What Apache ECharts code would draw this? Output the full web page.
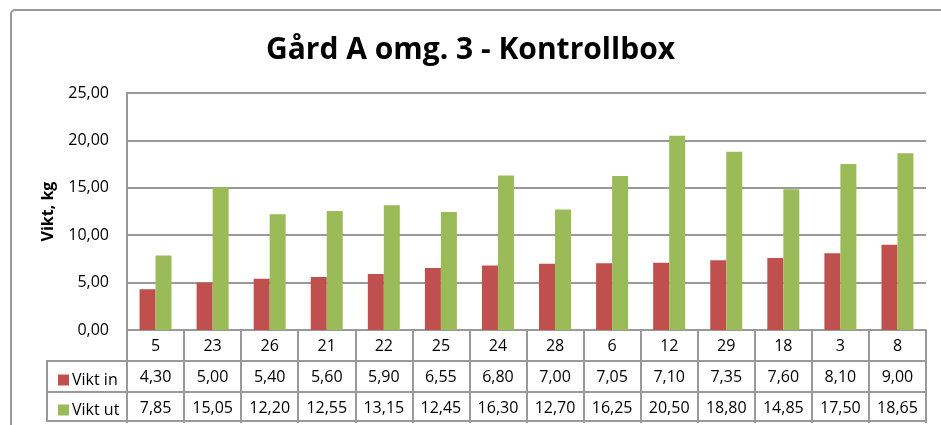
<!DOCTYPE html>
<html>
<head>
<meta charset="utf-8">
<script src="https://cdn.jsdelivr.net/npm/echarts@6/dist/echarts.min.js"></script>
<style>
	html, body { margin: 0; padding: 0; background: #fff; }
	#chart { width: 941px; height: 425px; }
</style>
</head>
<body>
<div id="chart"></div>
<script>
	// data
	var categories = ['5', '23', '26', '21', '22', '25', '24', '28', '6', '12', '29', '18', '3', '8'];
	var viktIn = [4.30, 5.00, 5.40, 5.60, 5.90, 6.55, 6.80, 7.00, 7.05, 7.10, 7.35, 7.60, 8.10, 9.00];
	var viktUt = [7.85, 15.05, 12.20, 12.55, 13.15, 12.45, 16.30, 12.70, 16.25, 20.50, 18.80, 14.85, 17.50, 18.65];
	var yTicks = [0, 5, 10, 15, 20, 25];

	var FONT = '"Open Sans", "Liberation Sans", sans-serif';
	var LINE = '#999999';
	var RED = '#C0504D';
	var GREEN = '#9BBB59';

	function fmt(v) {
		return Number(v).toFixed(2).replace('.', ',');
	}

	// one table row = one category axis pushed down with offset
	function tableAxis(rowData, offset, showLabels) {
		return {
			type: 'category',
			data: rowData,
			position: 'bottom',
			offset: offset,
			axisLine: { show: true, lineStyle: { color: LINE, width: 2 } },
			axisTick: {
				show: showLabels,
				alignWithLabel: false,
				interval: 0,
				length: 31,
				lineStyle: { color: LINE, width: 2 }
			},
			axisLabel: {
				show: showLabels,
				interval: 0,
				margin: 16,
				verticalAlign: 'middle',
				color: '#000',
				fontFamily: FONT,
				fontSize: 16
			}
		};
	}

	var chart = echarts.init(document.getElementById('chart'));

	chart.setOption({
		animation: false,
		title: {
			text: 'Gård A omg. 3 - Kontrollbox',
			left: 'center',
			top: 30,
			textStyle: {
				fontFamily: FONT,
				fontWeight: 'bold',
				fontSize: 30,
				color: '#000'
			}
		},
		legend: [{
			data: ['Vikt in'],
			left: 53,
			top: 367,
			icon: 'rect',
			itemWidth: 11,
			itemHeight: 11,
			itemGap: 0,
			textStyle: { fontFamily: FONT, fontSize: 16, color: '#000', padding: [0, 0, 0, -2] }
		}, {
			data: ['Vikt ut'],
			left: 53,
			top: 397,
			icon: 'rect',
			itemWidth: 11,
			itemHeight: 11,
			itemGap: 0,
			textStyle: { fontFamily: FONT, fontSize: 16, color: '#000', padding: [0, 0, 0, -2] }
		}],
		grid: {
			left: 127,
			right: 15,
			top: 93,
			bottom: 95,
			containLabel: false
		},
		xAxis: [
			tableAxis(categories, 0, true),
			tableAxis(viktIn.map(fmt), 31, true),
			tableAxis(viktUt.map(fmt), 62, true),
			tableAxis(categories, 91, false)
		],
		yAxis: {
			type: 'value',
			min: yTicks[0],
			max: yTicks[yTicks.length - 1],
			interval: 5,
			name: 'Vikt, kg',
			nameLocation: 'middle',
			nameGap: 71,
			nameTextStyle: {
				fontFamily: FONT,
				fontWeight: 'bold',
				fontSize: 16,
				color: '#000'
			},
			axisLine: { show: true, lineStyle: { color: LINE, width: 2 } },
			axisTick: { show: false },
			axisLabel: {
				margin: 18,
				color: '#000',
				fontFamily: FONT,
				fontSize: 16,
				formatter: fmt
			},
			splitLine: { lineStyle: { color: LINE, width: 2 } }
		},
		series: [{
			name: 'Vikt in',
			type: 'bar',
			xAxisIndex: 0,
			data: viktIn,
			barWidth: 16,
			barGap: '0%',
			itemStyle: { color: RED }
		}, {
			name: 'Vikt ut',
			type: 'bar',
			xAxisIndex: 0,
			data: viktUt,
			barWidth: 16,
			barGap: '0%',
			itemStyle: { color: GREEN }
		}],
		graphic: [{
			// chart area frame
			type: 'rect',
			shape: { x: 11, y: 10, width: 1000, height: 500, r: 4 },
			style: { fill: null, stroke: LINE, lineWidth: 2 },
			silent: true
		}, {
			// legend column of the data table
			type: 'rect',
			shape: { x: 47, y: 361, width: 80, height: 60 },
			style: { fill: null, stroke: LINE, lineWidth: 2 },
			silent: true
		}, {
			type: 'line',
			shape: { x1: 47, y1: 392, x2: 127, y2: 392 },
			style: { stroke: LINE, lineWidth: 2 },
			silent: true
		}]
	});
</script>
</body>
</html>
